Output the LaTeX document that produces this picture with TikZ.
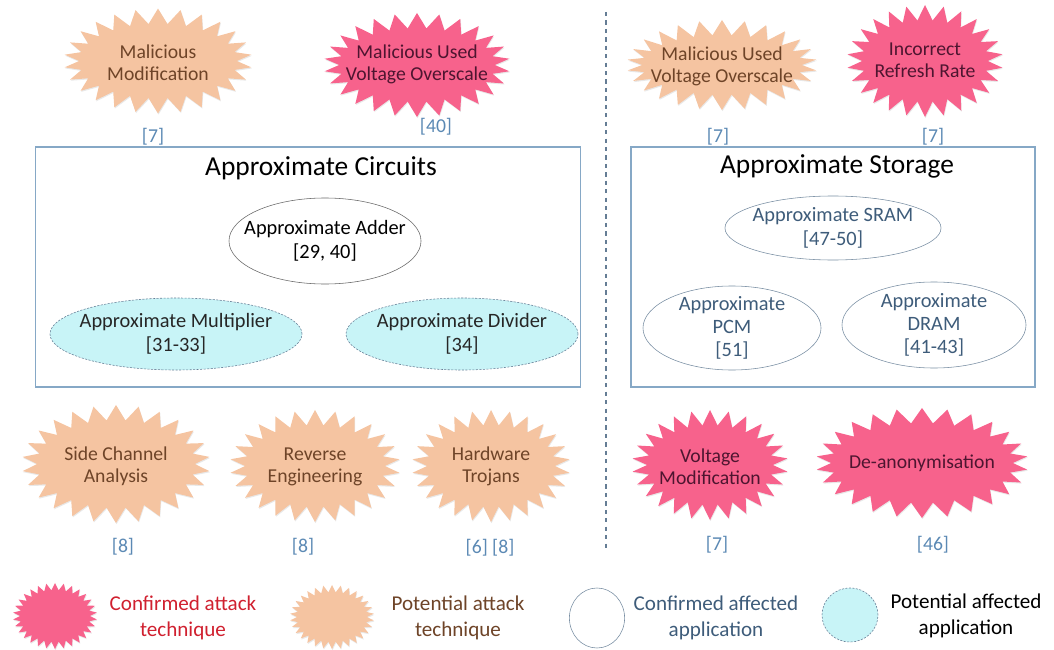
\documentclass[tikz,border=0pt]{standalone}
\usepackage{fontspec}
\setmainfont{Carlito}
\usetikzlibrary{shapes.symbols,shapes.geometric,shadows}

\definecolor{hotpink}{HTML}{F7628C}
\definecolor{peach}{HTML}{F5C4A1}
\definecolor{icecyan}{HTML}{C8F4F7}
\definecolor{boxline}{HTML}{86A8C6}
\definecolor{citeblue}{HTML}{5B89B4}
\definecolor{appblue}{HTML}{3E5C7A}
\definecolor{burstbrown}{HTML}{6E4428}
\definecolor{burstwine}{HTML}{4E1530}
\definecolor{legendred}{HTML}{D0202F}

\tikzset{
	burst/.style={starburst, random starburst=0, starburst points=26,
		starburst point height=0.38cm, inner sep=0pt,
		drop shadow={opacity=0.18, shadow xshift=0.4pt, shadow yshift=-0.8pt}},
	confirmed/.style={burst, fill=hotpink},
	potential/.style={burst, fill=peach},
	keyburst/.style={starburst point height=0.18cm, starburst points=30},
	bursttext/.style={align=center, font=\fontsize{14}{15.8}\selectfont},
	confirmedtext/.style={bursttext, text=burstwine},
	potentialtext/.style={bursttext, text=burstbrown},
	cite/.style={text=citeblue, font=\fontsize{14}{16}\selectfont},
	app/.style={ellipse, draw=appblue!70, align=center, inner sep=-2cm,
		font=\fontsize{14.5}{17.5}\selectfont},
	maybeapp/.style={app, fill=icecyan, draw=appblue!80,
		dash pattern=on 1.5pt off 1pt},
	group/.style={draw=boxline, thick, minimum height=6cm},
	grouptitle/.style={font=\fontsize{19.5}{23}\selectfont},
	legendtext/.style={align=center, font=\fontsize{15}{19}\selectfont}
}

\begin{document}
\begin{tikzpicture}[x=0.025cm, y=-0.025cm]
	\useasboundingbox (0,0) rectangle (1054,650);

	% divider between the two halves
	\draw[dashed, thick, color=appblue!80] (606,12) -- (606,548);

	% boxes
	\node[group, minimum width=13.6cm] (circbox) at (308,267) {};
	\node[group, minimum width=10.1cm] (storbox) at (833,267) {};
	\node[grouptitle] (circtitle) at (321,168) {Approximate Circuits};
	\node[grouptitle] (stortitle) at (837,166) {Approximate Storage};

	% circuits
	\node[app, draw=black!60, minimum width=4.8cm, minimum height=2.15cm] (adder) at (325,241) {Approximate Adder\\{[29, 40]}};
	\node[maybeapp, text=black!85, minimum width=6.3cm, minimum height=1.8cm] (mult) at (176,334) {Approximate Multiplier\\{[31-33]}};
	\node[maybeapp, text=black!85, minimum width=5.8cm, minimum height=1.8cm] (divider) at (462,334) {Approximate Divider\\{[34]}};

	% storage
	\node[app, text=appblue, minimum width=5.4cm, minimum height=1.6cm] (sram) at (833,228) {Approximate SRAM\\{[47-50]}};
	\node[app, text=appblue, minimum width=4.45cm, minimum height=2.1cm, font=\fontsize{14.5}{16.5}\selectfont] (pcm) at (732,328) {Approximate\\PCM\\{[51]}};
	\node[app, text=appblue, minimum width=4.6cm, minimum height=2.15cm, font=\fontsize{14.5}{16.5}\selectfont] (dram) at (934,325) {Approximate\\DRAM\\{[41-43]}};

	% attacks, top row
	\node[potential, minimum width=4.7cm, minimum height=2.62cm] (malmod) at (158,61) {};
	\node[potentialtext] (malmodtext) at (158,63) {Malicious\\Modification};
	\node[confirmed, minimum width=4.65cm, minimum height=2.6cm] (maluvo) at (417,65) {};
	\node[confirmedtext] (maluvotext) at (417,64) {Malicious Used\\Voltage Overscale};
	\node[potential, minimum width=4.75cm, minimum height=2.25cm] (maluvos) at (722,65) {};
	\node[potentialtext] (maluvostext) at (722,66) {Malicious Used\\Voltage Overscale};
	\node[confirmed, minimum width=3.9cm, minimum height=2.8cm] (refresh) at (925,61) {};
	\node[confirmedtext] (refreshtext) at (925,60) {Incorrect\\Refresh Rate};
	\node[cite] (c7a) at (153,137) {[7]};
	\node[cite] (c40) at (436,127) {[40]};
	\node[cite] (c7b) at (718,137) {[7]};
	\node[cite] (c7c) at (933,137) {[7]};

	% attacks, bottom row
	\node[potential, minimum width=4.7cm, minimum height=2.95cm] (sca) at (116,464) {};
	\node[potentialtext] (scatext) at (116,466) {Side Channel\\Analysis};
	\node[potential, minimum width=4.25cm, minimum height=2.8cm] (reveng) at (315,466) {};
	\node[potentialtext] (revengtext) at (315,467) {Reverse\\Engineering};
	\node[potential, minimum width=3.95cm, minimum height=2.8cm] (trojan) at (491,466) {};
	\node[potentialtext] (trojantext) at (491,466) {Hardware\\Trojans};
	\node[confirmed, minimum width=3.9cm, minimum height=2.75cm] (voltmod) at (710,465) {};
	\node[confirmedtext] (voltmodtext) at (710,467) {Voltage\\Modification};
	\node[confirmed, minimum width=5.3cm, minimum height=2.75cm] (deanon) at (922,463) {};
	\node[confirmedtext] (deanontext) at (922,463) {De-anonymisation};
	\node[cite] (c8a) at (123,547) {[8]};
	\node[cite] (c8b) at (303,547) {[8]};
	\node[cite] (c68) at (490,548) {[6] [8]};
	\node[cite] (c7d) at (717,545) {[7]};
	\node[cite] (c46) at (933,545) {[46]};

	% legend
	\node[confirmed, keyburst, minimum width=2.1cm, minimum height=1.65cm] (keyconf) at (55,616) {};
	\node[legendtext, text=legendred] (keyconftext) at (183,618) {Confirmed attack\\technique};
	\node[potential, keyburst, minimum width=2.1cm, minimum height=1.6cm] (keypot) at (332,617) {};
	\node[legendtext, text=burstbrown] (keypottext) at (458,618) {Potential attack\\technique};
	\node[app, minimum width=1.38cm, minimum height=1.5cm] (keyapp) at (597,618) {};
	\node[legendtext, text=appblue] (keyapptext) at (716,618) {Confirmed affected\\application};
	\node[maybeapp, minimum width=1.4cm, minimum height=1.35cm] (keymaybe) at (850,615) {};
	\node[legendtext] (keymaybetext) at (966,616) {Potential affected\\application};
\end{tikzpicture}
\end{document}
